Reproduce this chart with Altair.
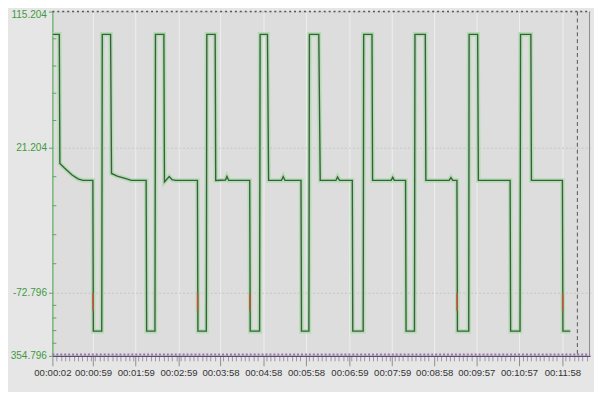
import altair as alt
import pandas as pd

# ---- signal trace (time in seconds, value) ----
trace_time = [2.5, 11.7, 12.5, 19, 29.7, 38, 45, 58.8, 59.5, 71.3, 72.0, 83.7, 85, 93, 104, 113,
              133.6, 134.3, 146, 146.7, 158.5, 159.3, 166, 170, 175, 205.6, 206.3, 218.1, 218.8,
              230.5, 231.3, 245, 247, 249.5, 279, 279.7, 292.9, 293.6, 303.9, 305.5, 323.5, 326,
              328.5, 351, 351.7, 362.1, 362.8, 376, 378, 400, 402.3, 405, 423, 423.7, 438.3, 439,
              450.7, 451.5, 477.5, 479.8, 482, 497.8, 498.5, 510.3, 511, 525.5, 526.3, 559, 561.5,
              564, 569.9, 570.6, 586.5, 587, 599, 600, 644.6, 645.3, 658.5, 659.2, 673.7, 674.5,
              718, 718.7, 729.1]
trace_value = [99.5, 99.5, 11, 8, 3.5, 1.0, 0, 0, -130, -130, 99.5, 99.5, 4.5, 2.8, 1.3, 0,
               0, -130, -130, 99.5, 99.5, -1, 2.5, 0.5, 0, 0, -130, -130, 99.5,
               99.5, 0, 0.3, 2.5, 0, 0, -130, -130, 99.5, 99.5, 0, 0, 2.5,
               0, 0, -130, -130, 99.5, 99.5, 0, 0, 2.2, 0, 0, -130, -130, 99.5,
               99.5, 0, 0, 2, 0, 0, -130, -130, 99.5, 99.5, 0, 0, 1.8,
               0, 0, -130, -130, 99.5, 99.5, 0, 0, -130, -130, 99.5, 99.5, 0,
               0, -130, -130]

# second (red) channel, short segments visible on some falling edges
red_time = [59.2, 205.9, 279.3, 570.2, 718.3]
red_top = [-72.796] * 5
red_bottom = [-100.0] * 5

# ---- axes ----
x_major = [2, 59, 119, 179, 238, 298, 358, 419, 479, 538, 597, 657, 718]
x_labels = ["00:00:02", "00:00:59", "00:01:59", "00:02:59", "00:03:58", "00:04:58", "00:05:58",
            "00:06:59", "00:07:59", "00:08:58", "00:09:57", "00:10:57", "00:11:58"]
x_minor_step = 6
x_domain = [2, 756.8]
cursor_time = 739

y_major = [115.204, 21.204, -72.796, -166.796]
y_labels = ["115.204", "21.204", "-72.796", "354.796"]
y_minor_step = 18.8

x_minor = [t for t in range(2 + x_minor_step, 757, x_minor_step)
           if all(abs(t - m) > 2 for m in x_major)]
x_tick_values = sorted(x_major + x_minor)
y_minor = [round(y_major[0] - y_minor_step * k, 3) for k in range(1, 15) if k % 5 != 0]

W, H = 545, 349
y_domain = sorted(y_major)
y_range = [349, 285, 138, 0]

FONT = "Liberation Sans, Arial, sans-serif"

x_test = f"indexof({x_major}, datum.value) >= 0"
x_label_expr = f"{x_test} ? {x_labels}[indexof({x_major}, datum.value)] : ''"
y_label_expr = f"{y_labels}[indexof({y_major}, datum.value)]"

x_scale = alt.Scale(domain=x_domain, nice=False, zero=False)
y_scale = alt.Scale(domain=y_domain, range=y_range, nice=False, zero=False)

trace = pd.DataFrame({"t": trace_time, "v": trace_value})
red = pd.DataFrame({"t": red_time, "top": red_top, "bottom": red_bottom})
yminor_df = pd.DataFrame({"v": y_minor})
one = pd.DataFrame({"k": [0]})

x_axis = alt.Axis(
    values=x_tick_values, labelExpr=x_label_expr, labelOverlap=False, labelFlush=False,
    title=None, labelFont=FONT, labelFontSize=9.7, labelColor="#333333", labelPadding=2,
    domainColor="#5c4b6b", domainWidth=1.2,
    tickSize={"condition": {"test": x_test, "value": 10}, "value": 5},
    tickColor={"condition": {"test": x_test, "value": "#8e8e8e"}, "value": "#9a94a2"},
    grid=True,
    gridColor="#efefef",
    gridOpacity={"condition": {"test": x_test, "value": 1}, "value": 0},
)
y_axis = alt.Axis(
    values=y_major, labelExpr=y_label_expr, title=None, labelFlush=False,
    labelFont=FONT, labelFontSize=10.2, labelColor="#3f9a3f", labelPadding=2,
    labelOffset={"condition": {"test": "datum.value > 100", "value": 3}, "value": 0},
    domainColor="#5aa85a", domainWidth=1.2, tickColor="#5aa85a", tickSize=4,
    grid=True, gridColor="#c6c6c6", gridDash=[2, 2],
)

X = lambda f: alt.X(f, scale=x_scale, axis=x_axis)
Y = lambda f: alt.Y(f, scale=y_scale, axis=y_axis)

base_line = alt.Chart(trace).encode(x=X("t:Q"), y=Y("v:Q"))
halo = base_line.mark_line(color="#abdcab", strokeWidth=4.5, opacity=0.85)
line = base_line.mark_line(color="#3a5f3e", strokeWidth=1.4)

red_rules = alt.Chart(red).mark_rule(color="#c4503e", strokeWidth=1.6).encode(
    x=X("t:Q"), y=Y("top:Q"), y2="bottom:Q",
)

y_minor_ticks = alt.Chart(yminor_df).mark_rule(color="#5aa85a", strokeWidth=1).encode(
    x=alt.value(0), x2=alt.value(4), y=Y("v:Q"),
)

top_frame = alt.Chart(one).mark_rule(color="#555555", strokeWidth=1.5, strokeDash=[2, 3]).encode(
    x=alt.value(0), x2=alt.value(W), y=alt.value(0))
right_frame = alt.Chart(one).mark_rule(color="#8a8a8a", strokeWidth=1).encode(
    x=alt.value(W - 0.5), y=alt.value(0), y2=alt.value(H))
bottom_frame = alt.Chart(one).mark_rule(color="#9b72b0", strokeWidth=2, strokeDash=[2, 2]).encode(
    x=alt.value(0), x2=alt.value(W), y=alt.value(H - 1.5))
cursor = alt.Chart(one).mark_rule(color="#555555", strokeWidth=1, strokeDash=[4, 3]).encode(
    x=alt.X(datum=cursor_time, scale=x_scale, axis=x_axis), y=alt.value(0), y2=alt.value(H))

chart = alt.layer(
    halo, line, red_rules, y_minor_ticks, cursor, top_frame, right_frame, bottom_frame
).properties(
    width=W, height=H,
    padding={"left": 45, "top": 1, "right": 4, "bottom": 34},
    autosize=alt.AutoSizeParams(type="none"),
    background="#e6e6e6",
).configure_view(
    stroke=None, fill="#dddddd"
)

chart.save("out.html", embed_options={"renderer": "svg", "actions": False})
